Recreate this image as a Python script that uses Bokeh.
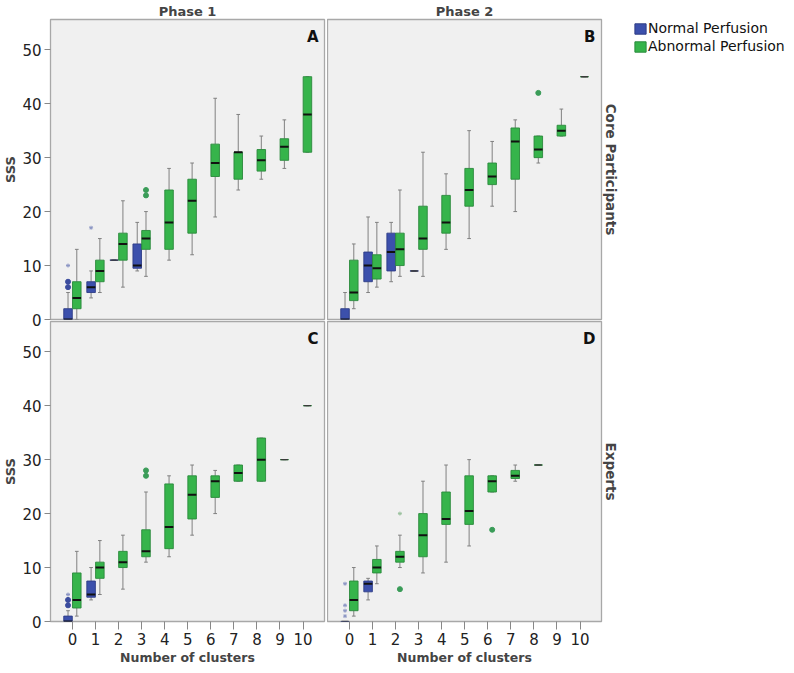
from bokeh.plotting import figure
from bokeh.layouts import row, column
from bokeh.models import (ColumnDataSource, Range1d, Title, Label, Legend,
                          LegendItem, FixedTicker)
from bokeh.transform import dodge
from bokeh.embed import file_html
from bokeh.resources import INLINE

# ---------------- data ----------------
CLUSTERS = [0, 1, 2, 3, 4, 5, 6, 7, 8, 9, 10]
SSS_TICKS = [0, 10, 20, 30, 40, 50]
GROUPS = ["Normal Perfusion", "Abnormal Perfusion"]
PHASES = ["Phase 1", "Phase 2"]
ROWS = ["Core Participants", "Experts"]
PANELS = ["A", "B", "C", "D"]

# Panel A : Phase 1, core participants
A_norm_x = [0, 1, 2, 3]
A_norm_q1 = [0, 5, 11, 9.5]
A_norm_med = [0, 6, 11, 10]
A_norm_q3 = [2, 7, 11, 14]
A_norm_lo = [0, 4, 11, 9]
A_norm_hi = [5, 9, 11, 18]
A_norm_out_x = [0, 0]
A_norm_out_y = [6, 7]
A_norm_ext_x = [0, 1]
A_norm_ext_y = [10, 17]

A_abn_x = [0, 1, 2, 3, 4, 5, 6, 7, 8, 9, 10]
A_abn_q1 = [2, 7, 11, 13, 13, 16, 26.5, 26, 27.5, 29.5, 31]
A_abn_med = [4, 9, 14, 15, 18, 22, 29, 31, 29.5, 32, 38]
A_abn_q3 = [7, 11, 16, 16.5, 24, 26, 32.5, 31, 31.5, 33.5, 45]
A_abn_lo = [0, 5, 6, 8, 11, 12, 19, 24, 26, 28, 31]
A_abn_hi = [13, 15, 22, 20, 28, 29, 41, 38, 34, 37, 45]
A_abn_out_x = [3, 3]
A_abn_out_y = [23, 24]
A_abn_ext_x = []
A_abn_ext_y = []

# Panel B : Phase 2, core participants
B_norm_x = [0, 1, 2, 3]
B_norm_q1 = [0, 7, 9, 9]
B_norm_med = [0, 10, 12.5, 9]
B_norm_q3 = [2, 12.5, 16, 9]
B_norm_lo = [0, 5, 7, 9]
B_norm_hi = [5, 19, 18, 9]
B_norm_out_x = []
B_norm_out_y = []
B_norm_ext_x = []
B_norm_ext_y = []

B_abn_x = [0, 1, 2, 3, 4, 5, 6, 7, 8, 9, 10]
B_abn_q1 = [3.5, 7.5, 10, 13, 16, 21, 25, 26, 30, 34, 45]
B_abn_med = [5, 9.5, 13, 15, 18, 24, 26.5, 33, 31.5, 35, 45]
B_abn_q3 = [11, 12, 16, 21, 23, 28, 29, 35.5, 34, 36, 45]
B_abn_lo = [2, 6, 8, 8, 13, 15, 21, 20, 29, 34, 45]
B_abn_hi = [14, 18, 24, 31, 27, 35, 33, 37, 34, 39, 45]
B_abn_out_x = [8]
B_abn_out_y = [42]
B_abn_ext_x = []
B_abn_ext_y = []

# Panel C : Phase 1, experts
C_norm_x = [0, 1]
C_norm_q1 = [0, 4.5]
C_norm_med = [0, 5]
C_norm_q3 = [1, 7.5]
C_norm_lo = [0, 4]
C_norm_hi = [2, 10]
C_norm_out_x = [0, 0]
C_norm_out_y = [3, 4]
C_norm_ext_x = [0]
C_norm_ext_y = [5]

C_abn_x = [0, 1, 2, 3, 4, 5, 6, 7, 8, 9, 10]
C_abn_q1 = [2.5, 8, 10, 12, 13.5, 19, 23, 26, 26, 30, 40]
C_abn_med = [4, 10, 11, 13, 17.5, 23.5, 26, 27.5, 30, 30, 40]
C_abn_q3 = [9, 11, 13, 17, 25.5, 27, 27, 29, 34, 30, 40]
C_abn_lo = [1, 5, 6, 11, 12, 16, 20, 26, 26, 30, 40]
C_abn_hi = [13, 15, 16, 24, 27, 29, 28, 29, 34, 30, 40]
C_abn_out_x = [3, 3]
C_abn_out_y = [27, 28]
C_abn_ext_x = []
C_abn_ext_y = []

# Panel D : Phase 2, experts
D_norm_x = [0, 1]
D_norm_q1 = [0, 5.5]
D_norm_med = [0, 7]
D_norm_q3 = [0, 7.5]
D_norm_lo = [0, 4]
D_norm_hi = [0, 8]
D_norm_out_x = []
D_norm_out_y = []
D_norm_ext_x = [0, 0, 0, 0]
D_norm_ext_y = [1, 2, 3, 7]

D_abn_x = [0, 1, 2, 3, 4, 5, 6, 7, 8]
D_abn_q1 = [2, 9, 11, 12, 18, 18, 24, 26.5, 29]
D_abn_med = [4, 10, 12, 16, 19, 20.5, 26, 27, 29]
D_abn_q3 = [7.5, 11.5, 13, 20, 24, 27, 27, 28, 29]
D_abn_lo = [1, 7, 10, 9, 11, 14, 24, 26, 29]
D_abn_hi = [10, 14, 16, 26, 29, 30, 27, 29, 29]
D_abn_out_x = [2, 6]
D_abn_out_y = [6, 17]
D_abn_ext_x = [2]
D_abn_ext_y = [20]

# ---------------- style ----------------
FONT = "DejaVu Sans"
BLUE, BLUE_LINE, BLUE_OUT, BLUE_EXT = "#3C50AC", "#2E3C86", "#3B4C9E", "#8C96C4"
GREEN, GREEN_LINE, GREEN_OUT, GREEN_EXT = "#36B44B", "#2A8A3C", "#3A9C58", "#9CC29F"
FW, FH = 274, 300
XR = (-0.95, 10.93)
YR = (0, 55.6)
OFF = 0.19
BW = 0.37
CAP = 0.08
GAP_BORDER = 11

ns = globals()


def group_data(panel, grp):
    g = lambda k: ns[f"{panel}_{grp}_{k}"]
    box = ColumnDataSource(dict(x=g("x"), q1=g("q1"), med=g("med"), q3=g("q3"),
                                lo=g("lo"), hi=g("hi")))
    # boxes with spread vs. single-value groups (drawn as a thin line)
    idx_box = [i for i in range(len(g("x"))) if g("q3")[i] > g("q1")[i]]
    idx_one = [i for i in range(len(g("x"))) if g("q3")[i] <= g("q1")[i]]
    medb = ColumnDataSource(dict(x=[g("x")[i] for i in idx_box],
                                 med=[g("med")[i] for i in idx_box]))
    med1 = ColumnDataSource(dict(x=[g("x")[i] for i in idx_one],
                                 med=[g("med")[i] for i in idx_one]))
    out = ColumnDataSource(dict(x=g("out_x"), y=g("out_y")))
    ext = ColumnDataSource(dict(x=g("ext_x"), y=g("ext_y")))
    return box, medb, med1, out, ext


def draw_group(p, panel, grp, off, fill, line, outc, extc):
    box, medb, med1, out, ext = group_data(panel, grp)
    xr = p.x_range
    wc = "#808080"
    p.segment(x0=dodge("x", off, range=xr), x1=dodge("x", off, range=xr),
              y0="q3", y1="hi", source=box, line_color=wc, line_width=1)
    p.segment(x0=dodge("x", off, range=xr), x1=dodge("x", off, range=xr),
              y0="q1", y1="lo", source=box, line_color=wc, line_width=1)
    p.segment(x0=dodge("x", off - CAP, range=xr), x1=dodge("x", off + CAP, range=xr),
              y0="hi", y1="hi", source=box, line_color=wc, line_width=1)
    p.segment(x0=dodge("x", off - CAP, range=xr), x1=dodge("x", off + CAP, range=xr),
              y0="lo", y1="lo", source=box, line_color=wc, line_width=1)
    p.vbar(x=dodge("x", off, range=xr), width=BW, bottom="q1", top="q3",
           source=box, fill_color=fill, line_color=line, line_width=1,
           line_alpha=0.9)
    p.segment(x0=dodge("x", off - BW / 2, range=xr), x1=dodge("x", off + BW / 2, range=xr),
              y0="med", y1="med", source=medb, line_color="#111111", line_width=2)
    p.segment(x0=dodge("x", off - BW / 2.4, range=xr), x1=dodge("x", off + BW / 2.4, range=xr),
              y0="med", y1="med", source=med1, line_color="#3A3A3A", line_width=1.4)
    p.scatter(x=dodge("x", off, range=xr), y="y", source=out, marker="circle",
              size=5, fill_color=outc, line_color=outc)
    p.scatter(x=dodge("x", off, range=xr), y="y", source=ext, marker="asterisk",
              size=4, line_color=extc, line_width=1)


def style_title(t, size="13px"):
    t.align = "center"
    t.text_font = FONT
    t.text_font_size = size
    t.text_font_style = "bold"
    t.standoff = 2
    t.offset = 0


def make_panel(panel, title=None, left=False, bottom=False, right_title=None):
    p = figure(frame_width=FW, frame_height=FH,
               x_range=Range1d(*XR), y_range=Range1d(*YR),
               output_backend="svg", toolbar_location=None,
               x_axis_location="below" if bottom else None,
               y_axis_location="left" if left else None,
               min_border=0, min_border_right=3 if left else 0,
               min_border_bottom=0 if bottom else GAP_BORDER)
    p.background_fill_color = "#F0F0F0"
    p.border_fill_color = "white"
    if bottom:
        p.border_fill_alpha = 0
    p.outline_line_color = "#A8A8A8"
    p.outline_line_width = 1.3
    p.xgrid.visible = False
    p.ygrid.visible = False
    if title:
        p.title.text = title
        style_title(p.title)
    if left:
        ax = p.yaxis[0]
        ax.ticker = FixedTicker(ticks=SSS_TICKS)
        ax.axis_label = "SSS"
        ax.axis_label_text_font = FONT
        ax.axis_label_text_font_style = "bold"
        ax.axis_label_text_font_size = "13px"
        ax.axis_label_standoff = 1
        ax.major_label_text_font = FONT
        ax.major_label_text_font_size = "15px"
        ax.major_label_text_color = "#222222"
        ax.major_label_standoff = 3
        ax.major_tick_out = 6
        ax.major_tick_in = 0
        ax.minor_tick_out = 0
        ax.minor_tick_in = 0
        ax.major_tick_line_color = "#888888"
        ax.axis_line_color = None
    if bottom:
        ax = p.xaxis[0]
        ax.ticker = FixedTicker(ticks=CLUSTERS)
        ax.axis_label = "Number of clusters"
        ax.axis_label_text_font = FONT
        ax.axis_label_text_font_style = "bold"
        ax.axis_label_text_font_size = "12.5px"
        ax.axis_label_standoff = 2
        ax.major_label_text_font = FONT
        ax.major_label_text_font_size = "15px"
        ax.major_label_text_color = "#222222"
        ax.major_label_standoff = 3
        ax.major_tick_out = 8
        ax.major_tick_in = 0
        ax.minor_tick_out = 0
        ax.minor_tick_in = 0
        ax.major_tick_line_color = "#888888"
        ax.axis_line_color = None
    draw_group(p, panel, "norm", -OFF, BLUE, BLUE_LINE, BLUE_OUT, BLUE_EXT)
    draw_group(p, panel, "abn", OFF, GREEN, GREEN_LINE, GREEN_OUT, GREEN_EXT)
    p.add_layout(Label(x=XR[1] - 0.26, y=YR[1] - 1.6, text=panel,
                       text_align="right", text_baseline="top",
                       text_font=FONT, text_font_style="bold",
                       text_font_size="15px", text_color="#111111"))
    if right_title:
        rt = Title(text=right_title)
        style_title(rt, "13.5px")
        rt.standoff = 3
        p.add_layout(rt, "right")
    return p


pA = make_panel("A", title=PHASES[0], left=True)
pB = make_panel("B", title=PHASES[1], right_title=ROWS[0])
pC = make_panel("C", left=True, bottom=True)
pD = make_panel("D", bottom=True, right_title=ROWS[1])

# legend figure (to the right of panel B); its swatch renderers reuse the
# panel-B box data but are hidden, so only the legend is seen
pL = figure(frame_width=154, frame_height=FH, x_range=Range1d(*XR), y_range=Range1d(*YR),
            output_backend="svg", toolbar_location=None,
            x_axis_location=None, y_axis_location=None, min_border=0,
            min_border_left=10, min_border_bottom=GAP_BORDER)
pL.title.text = " "
style_title(pL.title)
pL.outline_line_color = None
pL.background_fill_color = "white"
pL.xgrid.visible = False
pL.ygrid.visible = False
srcN = ColumnDataSource(dict(x=B_norm_x, q1=B_norm_q1, q3=B_norm_q3))
srcA = ColumnDataSource(dict(x=B_abn_x, q1=B_abn_q1, q3=B_abn_q3))
rb = pL.vbar(x="x", bottom="q1", top="q3", width=BW, source=srcN,
             fill_color=BLUE, line_color=BLUE_LINE, visible=False)
rg = pL.vbar(x="x", bottom="q1", top="q3", width=BW, source=srcA,
             fill_color=GREEN, line_color=GREEN_LINE, visible=False)
legend = Legend(items=[LegendItem(label=GROUPS[0], renderers=[rb]),
                       LegendItem(label=GROUPS[1], renderers=[rg])],
                location="top_left", orientation="vertical",
                border_line_alpha=0, background_fill_alpha=0,
                inactive_fill_alpha=0,
                glyph_width=14, glyph_height=13, label_standoff=1,
                label_height=14, spacing=2, padding=0, margin=1,
                label_text_font=FONT, label_text_font_size="14px",
                label_text_color="#111111")
pL.add_layout(legend)

layout = column(row(pA, pB, pL), row(pC, pD, margin=(-(GAP_BORDER - 2), 0, 0, 0)))
open("out.html", "w").write(file_html(layout, INLINE))
